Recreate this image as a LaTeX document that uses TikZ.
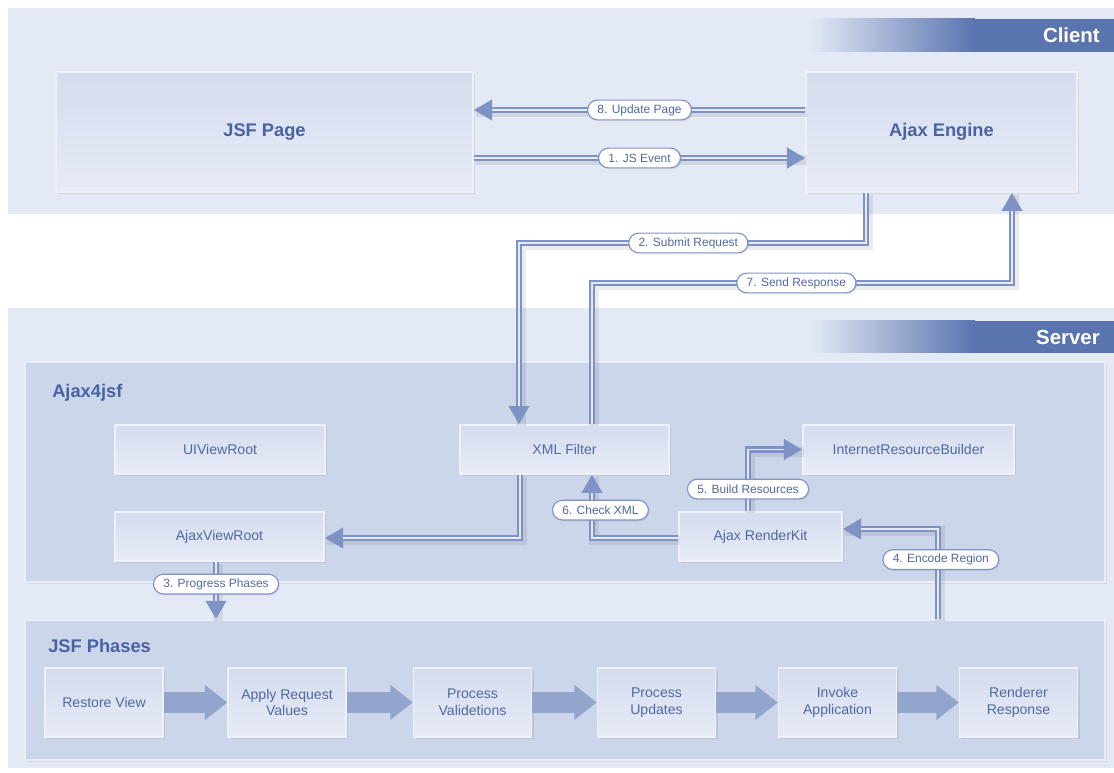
\documentclass[tikz,border=0pt]{standalone}
\usepackage{fontspec}
\setmainfont{Liberation Sans}
\usetikzlibrary{arrows.meta,shadows}

\definecolor{bandfarge}{HTML}{E3E9F5}
\definecolor{rammefarge}{HTML}{CBD6EA}
\definecolor{bokstopp}{HTML}{D4DCEE}
\definecolor{boksbunn}{HTML}{E6EBF6}
\definecolor{hode}{HTML}{5A74B0}
\definecolor{tekst}{HTML}{5368A0}
\definecolor{tittelfarge}{HTML}{4862A3}
\definecolor{linje}{HTML}{7E92C5}
\definecolor{linjelys}{HTML}{E4E9F6}
\definecolor{fatfarge}{HTML}{93A5CC}

\begin{document}
\begin{tikzpicture}
   [
    x=0.025cm, y=-0.025cm,
    every node/.style={text=tekst, inner sep=0pt},
    boks/.style={rectangle, top color=bokstopp, bottom color=boksbunn,
                 draw=white!60!bokstopp, line width=1pt,
                 drop shadow={opacity=0.18, shadow xshift=1.5pt, shadow yshift=-1.5pt},
                 font=\fontsize{10}{12}\selectfont, align=center},
    ramme/.style={rectangle, fill=rammefarge, draw=white!55!rammefarge, line width=1.2pt,
                  drop shadow={opacity=0.12, shadow xshift=1.5pt, shadow yshift=-1.5pt}},
    tittel/.style={font=\bfseries\fontsize{13}{15}\selectfont, text=tittelfarge},
    hodetekst/.style={font=\bfseries\fontsize{14.5}{16}\selectfont, text=white},
    merke/.style={rectangle, rounded corners=7pt, fill=white, draw=linje, line width=0.8pt,
                  inner xsep=7pt, minimum height=14pt, font=\fontsize{8.5}{10}\selectfont,
                  drop shadow={opacity=0.15, shadow xshift=1pt, shadow yshift=-1pt}},
    pil/.style={draw=linje, line width=4.5pt, -{Triangle[length=13pt,width=14pt]},
                preaction={draw=black, opacity=0.08, line width=7pt, -, transform canvas={xshift=1.5pt, yshift=-1.5pt}},
                postaction={draw=linjelys, line width=0.8pt, -, shorten >=13pt}},
    fatpil/.style={draw=fatfarge, line width=15pt, -{Triangle[length=16pt,width=24pt]}}
    ]

% bands
\fill[bandfarge] (8,8) rectangle (1114,214);
\fill[bandfarge] (8,308) rectangle (1114,768);
\useasboundingbox (0,0) rectangle (1114,773);

% headers
\shade[left color=bandfarge, right color=hode] (810,19) rectangle (975,52);
\fill[hode] (974.5,19) rectangle (1114,52);
\node[hodetekst, anchor=east] (klient) at (1100,35.5) {Client};
\shade[left color=bandfarge, right color=hode] (810,321) rectangle (975,353);
\fill[hode] (974.5,321) rectangle (1114,353);
\node[hodetekst, anchor=east] (tjener) at (1100,337) {Server};

% client
\node[boks, tittel, minimum width=10.425cm, minimum height=3cm] (jsfpage) at (264.5,132) {JSF Page};
\node[boks, tittel, minimum width=6.775cm, minimum height=3cm] (ajaxengine) at (941.5,132) {Ajax Engine};

% server containers
\node[ramme, minimum width=27cm, minimum height=5.5cm] (ajax4jsf) at (565,472) {};
\node[tittel, anchor=west] (ajaxtittel) at (52,393) {Ajax4jsf};
\node[ramme, minimum width=27cm, minimum height=3.5cm] (jsfphases) at (565,690) {};
\node[tittel, anchor=west] (fasetittel) at (48,646) {JSF Phases};

% ajax4jsf parts
\node[boks, minimum width=5.25cm, minimum height=1.225cm] (uiview) at (220,449.5) {UIViewRoot};
\node[boks, minimum width=5.225cm, minimum height=1.225cm] (xmlfilter) at (564.5,449.5) {XML Filter};
\node[boks, minimum width=5.275cm, minimum height=1.225cm] (irb) at (908.5,449.5) {InternetResourceBuilder};
\node[boks, minimum width=5.225cm, minimum height=1.225cm] (ajaxview) at (219.5,536.5) {AjaxViewRoot};
\node[boks, minimum width=4.075cm, minimum height=1.225cm] (renderkit) at (760.5,536.5) {Ajax RenderKit};

% phases
\node[boks, minimum width=2.95cm, minimum height=1.725cm] (fase1) at (104,702.5) {Restore View};
\node[boks, minimum width=2.95cm, minimum height=1.725cm] (fase2) at (287,702.5) {Apply Request\\Values};
\node[boks, minimum width=2.95cm, minimum height=1.725cm] (fase3) at (472.5,702.5) {Process\\Validetions};
\node[boks, minimum width=2.95cm, minimum height=1.725cm] (fase4) at (656.5,702.5) {Process\\Updates};
\node[boks, minimum width=2.95cm, minimum height=1.725cm] (fase5) at (837.5,702.5) {Invoke\\Application};
\node[boks, minimum width=2.95cm, minimum height=1.725cm] (fase6) at (1018.5,702.5) {Renderer\\Response};

\draw[fatpil] (fase1) -- (fase2);
\draw[fatpil] (fase2) -- (fase3);
\draw[fatpil] (fase3) -- (fase4);
\draw[fatpil] (fase4) -- (fase5);
\draw[fatpil] (fase5) -- (fase6);

% bend points
\coordinate (k1) at (640,158);
\coordinate (k8) at (640,110);
\coordinate (k2a) at (866,243);
\coordinate (k2b) at (519,243);
\coordinate (k7a) at (592,283);
\coordinate (k7b) at (1012,283);
\coordinate (k0) at (520,538);
\coordinate (k6) at (592,538);
\coordinate (k5) at (748,449.5);
\coordinate (k4) at (938,529);
\coordinate (k3) at (216,561);

% connectors
\draw[pil] (jsfpage.east |- k1) -- node[merke] {1. JS Event} (ajaxengine.west |- k1);
\draw[pil] (ajaxengine.south -| k2a) -- (k2a) -- node[merke, xshift=-3pt] {2. Submit Request} (k2b)
           -- (xmlfilter.north -| k2b);
\draw[pil] (ajaxview.south -| k3) -- node[merke, pos=0.39] {3. Progress Phases} (jsfphases.north -| k3);
\draw[pil] (jsfphases.north -| k4) |- node[merke, pos=0.33, xshift=2pt] {4. Encode Region} (renderkit.east |- k4);
\draw[pil] (renderkit.north -| k5) |- node[merke, pos=0.18] {5. Build Resources} (irb.west);
\draw[pil] (renderkit.west |- k6) -| node[merke, pos=0.72, xshift=6pt] {6. Check XML} (xmlfilter.south -| k6);
\draw[pil] (xmlfilter.north -| k7a) -- (k7a) -- node[merke, xshift=-4pt] {7. Send Response} (k7b)
           -- (ajaxengine.south -| k7b);
\draw[pil] (ajaxengine.west |- k8) -- node[merke] {8. Update Page} (jsfpage.east |- k8);
\draw[pil] (xmlfilter.south -| k0) |- (ajaxview.east |- k0);

\end{tikzpicture}
\end{document}
